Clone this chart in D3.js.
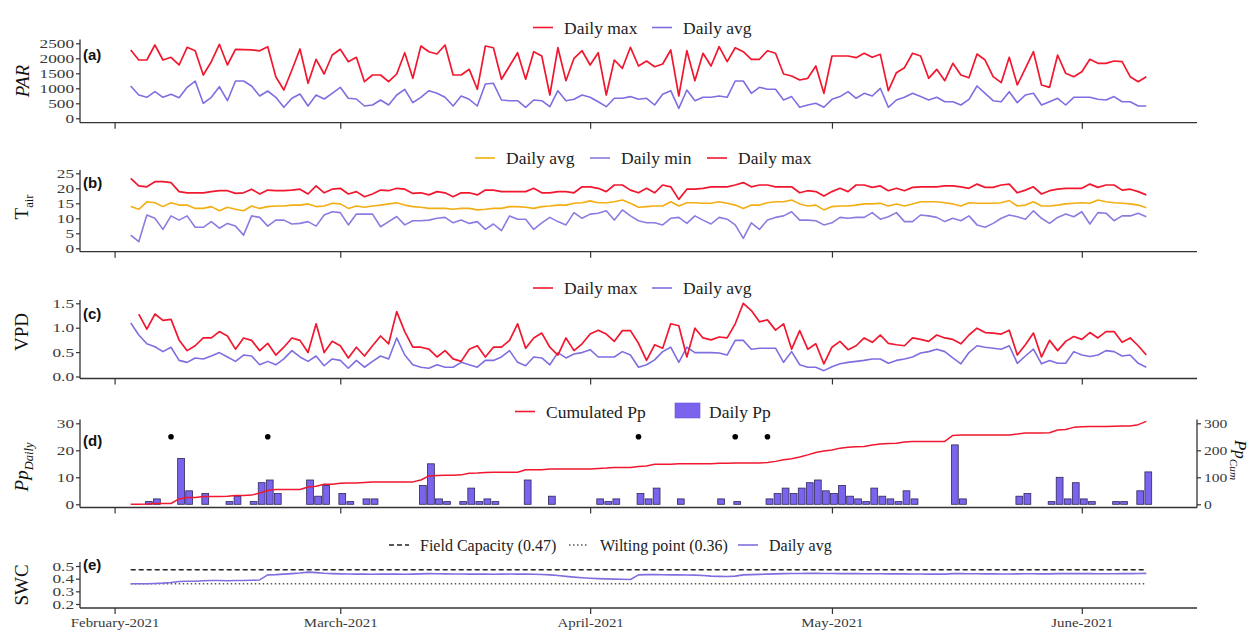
<!DOCTYPE html>
<html><head><meta charset="utf-8">
<script src="https://cdn.jsdelivr.net/npm/d3@7"></script>
<style>body{margin:0;background:#fff} svg{display:block}</style>
</head><body>
<svg id="chart" width="1249" height="635"></svg>
<script>
// ---------------- DATA ----------------
const startDate = "2021-02-03";
const monthTicks = ["2021-02-01","2021-03-01","2021-04-01","2021-05-01","2021-06-01"];
const monthLabels = ["February-2021","March-2021","April-2021","May-2021","June-2021"];

const parMax = [2277,1943,1943,2443,1943,2033,1777,2367,2253,1443,1887,2467,1777,2300,2290,2280,2250,2387,1387,943,1610,2310,1167,1967,1477,2110,2300,1887,2033,1220,1443,1443,1220,1477,2187,1333,
2410,2220,2143,2443,1443,1443,1633,967,2410,2353,1300,1743,2187,1300,2220,2077,777,2353,1253,2000,2253,1777,2187,777,1943,1667,2367,1743,1910,1720,1810,2277,743,2253,1253,2167,1743,2390,1887,2353,2220,1967,1967,2253,2167,1477,1410,1277,1333,1743,833,
2077,2077,2077,2020,2167,2033,2133,920,1520,1687,2167,2077,1333,1633,1253,1833,1443,1353,2143,1943,1387,1187,2033,1110,1667,2220,1110,1033,2110,1500,1387,1553,1967,1833,1833,1910,1887,1387,1220,1387];
const parAvg = [1077,777,700,887,700,800,687,1033,1243,500,700,1053,587,1243,1243,1077,743,910,700,367,667,810,410,777,643,833,1033,667,643,410,443,610,443,777,967,520,
700,920,833,700,410,743,633,410,1143,1167,610,587,587,367,610,587,387,920,587,633,777,700,553,387,667,667,723,633,667,443,800,920,333,943,587,700,700,743,700,1243,1243,833,1033,967,967,610,723,367,443,500,367,
633,723,887,667,833,743,1000,367,610,700,833,723,610,700,553,553,443,633,1077,833,587,553,887,520,777,833,443,553,667,443,700,700,700,633,610,723,553,553,410,410];

const tMax = [23.3,20.8,20.5,22.2,22.2,21.9,18.9,18.5,18.5,18.5,18.9,19.2,19.2,18.3,18.5,19.7,18.1,19.4,19.2,19.2,19.4,19.7,18.1,20.8,18.5,19.7,20,18.1,18.9,17.2,18.1,19.4,19.2,20,19.7,18.3,
18.5,17.8,18.9,18.5,17.2,18.5,18.5,17.8,19.4,19.4,18.9,18.9,18.9,18.9,20,18.5,18.5,18.9,18.9,18.5,20.5,20.5,20,18.9,21.1,21.1,19.4,18.5,20,18.5,21.1,20.5,16.3,19.7,19.7,20,20.5,20.5,20.5,21.1,21.9,20.5,21.1,21.1,20.5,20.5,20.5,18.5,19.2,18.9,17.4,
18.9,20,18.9,21.1,21.1,20.3,20.8,19.2,20,19.2,20.3,20.5,20.5,20.5,20.8,20.8,20.5,20,21.4,20.3,20.3,21.1,21.4,18.5,19.4,20.5,18.1,19.2,19.7,20,20,20,21.4,20.3,21.1,21.1,19.4,19.7,18.9,17.8];
const tAvg = [13.9,13,15.5,15.2,13.9,15.2,14.4,14.4,13.3,13.3,13.9,12.5,13.7,13,12.5,14.1,13.3,13.9,14.1,14.1,14.4,14.4,14.8,13.9,14.1,15,14.8,13.3,14.1,13.7,14.1,14.4,14.8,15.2,14.4,13.9,
13.7,13.3,13.3,13.3,13,13.3,13.3,12.8,13,13.3,13.3,13.9,13.9,13.7,13.3,13.9,14.1,14.4,14.4,15,15.2,15.8,15.2,15.2,15.5,16.1,15,13.7,13.9,14.1,14.1,15.5,14.1,15.2,15.2,15,15,15.5,15,14.4,13.3,14.4,14.4,15.2,15.5,15.5,16.1,14.8,14.1,14.4,12.8,
13.9,14.1,14.1,14.4,14.8,14.8,15,14.1,14.8,14.1,14.8,15.5,15.5,15.5,15.2,14.8,14.1,15.2,15,15,15,15.2,15.9,14.1,14.4,15.5,14.1,14.1,14.4,14.8,15,15.2,15,16.1,15.5,15.2,15,14.8,14.4,13.5];
const tMin = [4.4,2.2,11.1,10,6.3,10.8,9.4,10.8,7,7,8.9,6.7,8.3,7.4,4.4,10.8,10.3,7.4,9.4,9.4,8.1,8.3,8.9,7.4,11.1,12.2,11.9,7.8,11.4,11.4,11.4,7.2,8.9,10.6,7.8,9.2,
9.2,9.4,10,10.3,8.5,9.4,8.3,8.9,6.3,8.1,5.9,10.8,9.7,9.7,6.3,8.5,10.3,8.9,7.8,11.9,10,11.4,11.7,12.5,9.4,12.8,10.8,9.2,8.5,8.5,7.8,10,10.3,8.3,10.8,9.4,8.1,10.3,9.7,7.8,3.3,8.5,6.3,9.4,10.3,10.8,12.2,9.4,9.4,9.2,7.8,
8.5,10.3,10,10.3,10.3,11.9,9.7,10.5,11.9,8.9,8.9,11.1,10.8,10.3,8.9,10,9.2,10.8,7.8,7,8.3,10,11.1,10.5,9.7,12.5,10,8.3,10.3,11.4,10.5,12.2,8.1,11.9,11.7,9.2,10.8,10.8,11.7,10.5];

const vpdMax = [null,1.28,0.97,1.28,1.15,1.17,0.75,0.53,0.63,0.79,0.79,0.92,0.83,0.56,0.79,0.74,0.53,0.68,0.44,0.60,0.79,0.74,0.49,1.08,0.49,0.72,0.63,0.38,0.60,0.42,0.63,0.83,0.67,1.33,0.92,0.60,
0.60,0.56,0.40,0.53,0.36,0.31,0.56,0.63,0.40,0.60,0.60,0.74,1.08,0.58,0.79,0.89,0.60,0.44,0.79,0.53,0.67,0.87,0.95,0.87,0.72,0.94,0.94,0.68,0.33,0.65,0.58,1.08,1.04,0.40,0.99,0.79,0.75,0.81,0.79,1.08,1.50,1.35,1.12,1.16,0.95,1.08,0.56,0.94,0.56,0.67,0.26,
0.60,0.72,0.55,0.63,0.79,0.70,0.85,0.68,0.65,0.63,0.79,0.76,0.72,0.85,0.79,0.76,0.67,0.85,0.99,0.90,0.89,0.87,0.95,0.44,0.65,0.89,0.40,0.74,0.53,0.72,0.82,0.76,0.90,0.79,0.92,0.92,0.70,0.79,0.63,0.44];
const vpdAvg = [1.10,0.85,0.67,0.61,0.51,0.60,0.33,0.29,0.38,0.36,0.42,0.49,0.40,0.31,0.44,0.42,0.24,0.31,0.24,0.36,0.53,0.40,0.31,0.42,0.22,0.36,0.33,0.17,0.33,0.19,0.31,0.42,0.36,0.79,0.44,0.24,
0.19,0.17,0.24,0.19,0.19,0.29,0.24,0.19,0.33,0.33,0.40,0.53,0.29,0.22,0.40,0.38,0.24,0.49,0.38,0.46,0.49,0.55,0.40,0.40,0.40,0.51,0.44,0.19,0.24,0.34,0.51,0.60,0.29,0.60,0.49,0.49,0.49,0.48,0.44,0.74,0.74,0.56,0.58,0.58,0.58,0.29,0.51,0.24,0.19,0.19,0.12,
0.20,0.26,0.29,0.31,0.33,0.36,0.36,0.27,0.33,0.36,0.40,0.48,0.51,0.56,0.51,0.38,0.26,0.49,0.63,0.60,0.58,0.56,0.63,0.27,0.42,0.56,0.26,0.33,0.27,0.27,0.51,0.44,0.41,0.44,0.53,0.51,0.42,0.44,0.27,0.19];

const ppDaily = [0,0,1,2,0,0,17,5,0,4, 0,0,1,3,0,1,8,9,4,0, 0,0,9,3,7,0,4,1,0,2, 2,0,0,0,0,0,7,15,2,1,
0,1,6,1,2,1,0,0,0,9, 0,0,3,0,0,0,0,0,2,1, 2,0,0,4,2,6,0,0,2,0, 0,0,0,2,0,1,0,0,0,2,
4,6,4,6,8,9,5,4,7,3, 2,1,6,3,2,1,5,2,0,0, 0,0,22,2,0,0,0,0,0,0, 3,4,0,0,1,10,2,8,2,1, 0,0,1,1,0,5,12];
const samplingDays = ["2021-02-08","2021-02-20","2021-04-07","2021-04-19","2021-04-23"];
const samplingMark = 25;

const swcAvg = [0.36,0.36,0.36,0.362,0.365,0.37,
0.378,0.38,0.38,0.383,0.385,0.385,0.383,0.385,0.385,0.387,0.39,
0.43,0.432,0.436,0.44,0.445,0.452,
0.448,0.443,0.44,0.438,0.437,0.436,0.436,0.435,
0.436,0.437,0.436,0.435,0.436,0.438,0.44,0.439,0.438,0.437,0.437,0.436,0.436,0.436,0.435,0.436,0.437,0.436,0.436,0.435,
0.433,0.43,0.425,0.418,0.412,0.407,0.403,0.4,0.398,0.396,0.395,0.393,
0.43,0.432,0.432,0.431,0.43,0.43,0.429,0.428,
0.425,0.42,0.418,0.417,0.42,
0.43,0.432,0.434,0.436,0.438,0.44,0.441,0.441,0.442,0.442,
0.441,0.441,0.44,0.44,0.44,0.439,0.439,0.439,0.438,0.438,
0.438,0.437,0.437,0.436,0.436,0.436,0.44,0.44,0.439,0.439,
0.438,0.438,0.437,0.437,0.438,0.439,0.439,0.438,0.438,0.44,
0.44,0.441,0.44,0.44,0.439,0.439,0.439,0.44,0.44,0.441,0.442];
const fieldCapacity = 0.47;
const wiltingPoint = 0.36;

const ticksPAR = [0,500,1000,1500,2000,2500];
const ticksT = [0,5,10,15,20,25];
const ticksVPD = [0,0.5,1.0,1.5];
const ticksPp = [0,10,20,30];
const ticksCum = [0,100,200,300];
const ticksSWC = [0.2,0.3,0.4,0.5];

// ---------------- DRAW ----------------
const svg = d3.select("#chart");
const parse = d3.utcParse("%Y-%m-%d");
const t0 = parse(startDate);
const dates = parMax.map((_, i) => d3.utcDay.offset(t0, i));
const n = dates.length;

const RED = "#f0172f", AVG = "#7d6fe0", MIN = "#8f7ae0", ORANGE = "#f2ae12", BAR = "#7b63ee";
const AXIS = "#333", TICKTXT = "#3a3a3a";
const SERIF = "'Liberation Serif','Times New Roman',serif";
const SANS = "'Liberation Sans',Arial,sans-serif";
const LBL_SX = 1.38;

const x = d3.scaleUtc()
  .domain([d3.utcHour.offset(dates[0], -151), d3.utcHour.offset(dates[n-1], 151)])
  .range([80, 1197]);

function yAxis(scale, ticks, fmt, xPos, top, bottom, right) {
  const ax = (right ? d3.axisRight(scale) : d3.axisLeft(scale))
    .tickValues(ticks).tickFormat(fmt).tickSize(4).tickSizeOuter(0);
  const g = svg.append("g").attr("transform", `translate(${xPos},0)`).call(ax);
  g.attr("font-family", SERIF).attr("font-size", 12.5);
  g.select(".domain").remove();
  g.append("line").attr("x1", 0).attr("x2", 0).attr("y1", top).attr("y2", bottom)
    .attr("stroke", AXIS).attr("stroke-width", 1.3);
  g.selectAll(".tick line").attr("stroke", AXIS).attr("stroke-width", 1.2);
  g.selectAll(".tick text").attr("x", 0).attr("fill", TICKTXT)
    .attr("transform", `translate(${right ? 7 : -6},0) scale(${right ? 1.25 : LBL_SX},1)`);
  return g;
}
function xAxis(yPos, withLabels) {
  const ax = d3.axisBottom(x).tickValues(monthTicks.map(parse)).tickSize(6).tickSizeOuter(0)
    .tickFormat((d, i) => withLabels ? monthLabels[i] : "");
  const g = svg.append("g").attr("transform", `translate(0,${yPos})`).call(ax);
  g.attr("font-family", SERIF).attr("font-size", 13);
  g.select(".domain").remove();
  g.append("line").attr("x1", 80).attr("x2", 1197).attr("y1", 0).attr("y2", 0)
    .attr("stroke", AXIS).attr("stroke-width", 1.3);
  g.selectAll(".tick line").attr("stroke", AXIS).attr("stroke-width", 1.2);
  g.selectAll(".tick text").attr("fill", TICKTXT).attr("y", 0).attr("dy", 0)
    .attr("transform", "translate(0,19) scale(1.15,1)");
}
function drawLine(values, y, color, width, dash) {
  const line = d3.line().defined(d => d != null).x((d, i) => x(dates[i])).y(d => y(d));
  svg.append("path").datum(values).attr("d", line).attr("fill", "none")
    .attr("stroke", color).attr("stroke-width", width || 1.7)
    .attr("stroke-linejoin", "round").attr("stroke-dasharray", dash || null);
}
function panelLabel(txt, yb) {
  svg.append("text").attr("x", 83).attr("y", yb).attr("font-family", SANS)
    .attr("font-weight", "bold").attr("font-size", 15).attr("fill", "#111").text(txt);
}
function legendItem(x1, yc, color, label, dash, width, fs) {
  svg.append("line").attr("x1", x1).attr("x2", x1 + 20).attr("y1", yc).attr("y2", yc)
    .attr("stroke", color).attr("stroke-width", width || 1.6).attr("stroke-dasharray", dash || null);
  svg.append("text").attr("x", x1 + 31).attr("y", yc + 6).attr("font-family", SERIF)
    .attr("font-size", fs || 17.5).attr("fill", "#222").text(label);
}
function yTitle(cx, cy, parts, italic, rot, fs) {
  const t = svg.append("text").attr("transform", `translate(${cx},${cy}) rotate(${rot || -90})`)
    .attr("text-anchor", "middle").attr("font-family", SERIF).attr("font-size", fs || 19)
    .attr("fill", "#111").attr("font-style", italic ? "italic" : null);
  parts.forEach(p => {
    const s = t.append("tspan").text(p.t);
    if (p.sub) s.attr("font-size", (fs || 19) * 0.66).attr("dy", 5);
  });
}

// ---- (a) PAR ----
const yA = d3.scaleLinear().domain([0, 2500]).range([118.3, 43.3]);
yAxis(yA, ticksPAR, d3.format("d"), 80, 39.5, 122.7);
xAxis(122.7, false);
drawLine(parAvg, yA, AVG, 1.6);
drawLine(parMax, yA, RED, 1.7);
panelLabel("(a)", 60);
legendItem(533, 27.5, RED, "Daily max");
legendItem(652, 27.5, AVG, "Daily avg");
yTitle(29, 81, [{t: "PAR"}], true);

// ---- (b) Tair ----
const yB = d3.scaleLinear().domain([0, 25]).range([248.3, 173.3]);
yAxis(yB, ticksT, d3.format("d"), 80, 170, 251.7);
xAxis(251.7, false);
drawLine(tMin, yB, MIN, 1.6);
drawLine(tAvg, yB, ORANGE, 1.6);
drawLine(tMax, yB, RED, 1.7);
panelLabel("(b)", 188);
legendItem(475, 158, ORANGE, "Daily avg");
legendItem(590, 158, MIN, "Daily min");
legendItem(707, 158, RED, "Daily max");
yTitle(28, 207, [{t: "T"}, {t: "air", sub: true}], false);

// ---- (c) VPD ----
const yC = d3.scaleLinear().domain([0, 1.5]).range([376.5, 303.3]);
yAxis(yC, ticksVPD, d3.format(".1f"), 80, 300, 378.5);
xAxis(378.5, false);
drawLine(vpdAvg, yC, AVG, 1.6);
drawLine(vpdMax, yC, RED, 1.7);
panelLabel("(c)", 319);
legendItem(533, 288, RED, "Daily max");
legendItem(652, 288, AVG, "Daily avg");
yTitle(28, 332, [{t: "VPD"}], false);

// ---- (d) Pp ----
const yD = d3.scaleLinear().domain([0, 30]).range([504.3, 423.3]);
const yDc = d3.scaleLinear().domain([0, 300]).range([504.3, 423.3]);
yAxis(yD, ticksPp, d3.format("d"), 80, 419.5, 507.5);
yAxis(yDc, ticksCum, d3.format("d"), 1197, 419.5, 507.5, true);
xAxis(507.5, false);
const bw = 6.8;
svg.append("g").selectAll("rect").data(ppDaily.map((v, i) => ({v, d: dates[i]})).filter(o => o.v > 0))
  .join("rect")
  .attr("x", o => x(o.d) - bw / 2 + 2).attr("width", bw)
  .attr("y", o => yD(o.v)).attr("height", o => yD(0) - yD(o.v))
  .attr("fill", BAR).attr("stroke", "#2b2b55").attr("stroke-width", 0.8);
drawLine(d3.cumsum(ppDaily), yDc, RED, 1.5);
svg.append("g").selectAll("circle").data(samplingDays).join("circle")
  .attr("cx", d => x(parse(d))).attr("cy", yD(samplingMark)).attr("r", 2.8).attr("fill", "#000");
panelLabel("(d)", 446);
legendItem(515, 411.5, RED, "Cumulated Pp");
svg.append("rect").attr("x", 675).attr("y", 403).attr("width", 25).attr("height", 15)
  .attr("fill", BAR).attr("stroke", "#6655cc").attr("stroke-width", 0.6);
svg.append("text").attr("x", 709).attr("y", 417.5).attr("font-family", SERIF)
  .attr("font-size", 17.5).attr("fill", "#222").text("Daily Pp");
yTitle(28, 467, [{t: "Pp"}, {t: "Daily", sub: true}], true);
yTitle(1235, 460, [{t: "Pp"}, {t: "Cum", sub: true}], true, 90, 17);

// ---- (e) SWC ----
const yE = d3.scaleLinear().domain([0.2, 0.5]).range([604, 566]);
yAxis(yE, ticksSWC, d3.format(".1f"), 80, 562, 608);
xAxis(608, true);
drawLine(dates.map(() => fieldCapacity), yE, "#222", 1.4, "5,3");
drawLine(dates.map(() => wiltingPoint), yE, "#555", 1.4, "1.5,2.5");
drawLine(swcAvg, yE, AVG, 1.6);
panelLabel("(e)", 570);
legendItem(389, 545, "#222", "Field Capacity (0.47)", "5,3", 1.4, 16);
legendItem(569, 545, "#555", "Wilting point (0.36)", "1.5,2.5", 1.4, 16);
legendItem(738, 545, AVG, "Daily avg", null, 1.6, 16);
yTitle(28, 585, [{t: "SWC"}], false);
</script>
</body></html>
